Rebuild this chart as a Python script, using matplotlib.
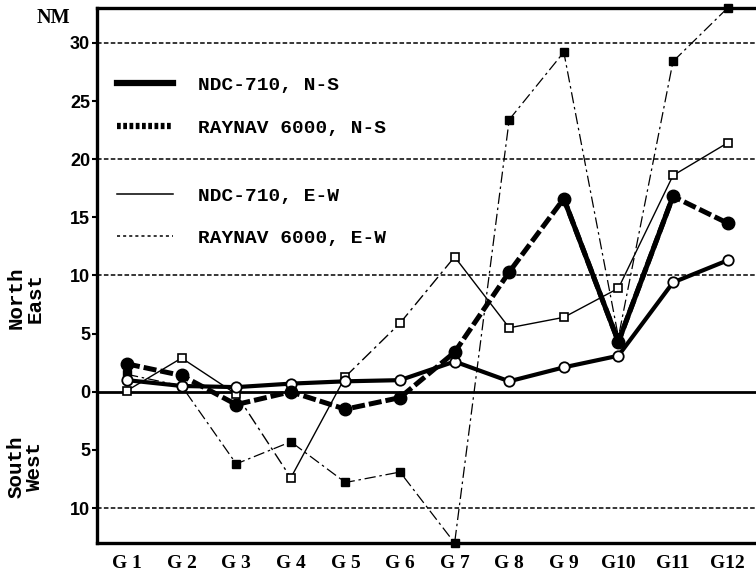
import numpy as np
import matplotlib
matplotlib.use('agg')
import matplotlib.pyplot as plt
from matplotlib.lines import Line2D

# ---------------- data (nautical miles, + = North/East, - = South/West)
groups = ['G 1', 'G 2', 'G 3', 'G 4', 'G 5', 'G 6',
          'G 7', 'G 8', 'G 9', 'G10', 'G11', 'G12']
ndc_ns = [2.4, 1.4, -1.1, 0.0, -1.5, -0.5, 3.4, 10.3, 16.6, 4.3, 16.8, 14.5]
ndc_ew = [1.0, 0.5, 0.4, 0.7, 0.9, 1.0, 2.6, 0.9, 2.1, 3.1, 9.4, 11.3]
ray_ns = [1.5, 0.5, -6.2, -4.3, -7.8, -6.9, -13.0, 23.4, 29.2, 4.7, 28.4, 33.0]
ray_ew = [0.1, 2.9, -0.2, -7.4, 1.3, 5.9, 11.6, 5.5, 6.4, 8.9, 18.6, 21.4]

yticks = [-10, -5, 0, 5, 10, 15, 20, 25, 30]
gridvals = [-10, 10, 20, 30]
legend_top = ['NDC-710, N-S', 'RAYNAV 6000, N-S']
legend_bot = ['NDC-710, E-W', 'RAYNAV 6000, E-W']

x = np.arange(1, len(groups) + 1)

fig = plt.figure(figsize=(7.56, 5.78), dpi=100)
ax = fig.add_axes([0.1283, 0.0606, 0.8717, 0.9256])
ax.set_xlim(0.45, 12.52)
ax.set_ylim(-13, 33)

# grid / zero line
for g in gridvals:
    ax.axhline(g, color='black', lw=1.1, dashes=(3, 1.5), zorder=1)
ax.axhline(0, color='black', lw=2.0, zorder=1)

# RAYNAV N-S : thin dash-dot, filled squares
ax.plot(x, ray_ns, color='black', lw=0.9, dashes=(9, 3, 2, 3), zorder=2,
        clip_on=False)
ax.plot(x, ray_ns, ls='none', marker='s', ms=6, mfc='black', mec='black',
        zorder=5, clip_on=False)

# RAYNAV E-W : thin solid / dash-dot mix, open squares
dashdot_segs = [2, 4, 5]
for i in range(len(x) - 1):
    kw = dict(dashes=(9, 3, 2, 3)) if i in dashdot_segs else dict(ls='-')
    ax.plot(x[i:i + 2], ray_ew[i:i + 2], color='black', lw=1.0, zorder=2, **kw)
ax.plot(x, ray_ew, ls='none', marker='s', ms=6, mfc='white', mec='black',
        mew=1.2, zorder=5)

# NDC E-W : thick solid, open circles
ax.plot(x, ndc_ew, color='black', lw=3.0, zorder=3)
ax.plot(x, ndc_ew, ls='none', marker='o', ms=7.5, mfc='white', mec='black',
        mew=1.3, zorder=6)

# NDC N-S : thick dashed, filled circles (solid across G9-G11)
ax.plot(x, ndc_ns, color='black', lw=3.6, dashes=(2.6, 0.8), zorder=4)
ax.plot(x[8:11], ndc_ns[8:11], color='black', lw=3.6, zorder=4)
ax.plot(x, ndc_ns, ls='none', marker='o', ms=9, mfc='black', mec='black',
        zorder=7)

# axes styling
for s in ['top', 'left', 'bottom']:
    ax.spines[s].set_linewidth(2.4)
ax.spines['right'].set_visible(False)

ax.set_xticks(x)
ax.set_xticklabels(groups, fontfamily='Liberation Serif', fontweight='bold',
                   fontsize=14)
ax.tick_params(axis='x', length=0, pad=9)
ax.set_yticks(yticks)
ax.set_yticklabels([str(abs(v)) for v in yticks], fontfamily='Liberation Sans',
                   fontweight='bold', fontsize=13)
ax.tick_params(axis='y', length=3.5, width=1.5, pad=1.5)

fig.text(0.070, 0.969, 'NM', fontfamily='Liberation Serif', fontweight='bold',
         fontsize=14.5, ha='center', va='center')
fig.text(0.034, 0.484, 'North\nEast', rotation=90, fontfamily='Liberation Mono',
         fontweight='bold', fontsize=15, ha='center', va='center',
         linespacing=0.95)
fig.text(0.034, 0.193, 'South\nWest', rotation=90, fontfamily='Liberation Mono',
         fontweight='bold', fontsize=15, ha='center', va='center',
         linespacing=0.95)

# legends
lfont = dict(family='Liberation Mono', size=14, weight='bold')
h_top = [Line2D([], [], color='black', lw=4.5),
         Line2D([], [], color='black', lw=4.5, dashes=(0.6, 0.4))]
h_bot = [Line2D([], [], color='black', lw=1.1),
         Line2D([], [], color='black', lw=1.1, dashes=(2, 2))]
leg1 = ax.legend(h_top, legend_top, loc='upper left', frameon=False,
                 prop=lfont, handlelength=2.85, handletextpad=1.3,
                 labelspacing=1.3, bbox_to_anchor=(0.004, 0.905))
ax.add_artist(leg1)
ax.legend(h_bot, legend_bot, loc='upper left', frameon=False,
          prop=lfont, handlelength=2.85, handletextpad=1.3,
          labelspacing=1.25, bbox_to_anchor=(0.004, 0.697))

plt.savefig('out.png', dpi=100)
plt.close('all')
